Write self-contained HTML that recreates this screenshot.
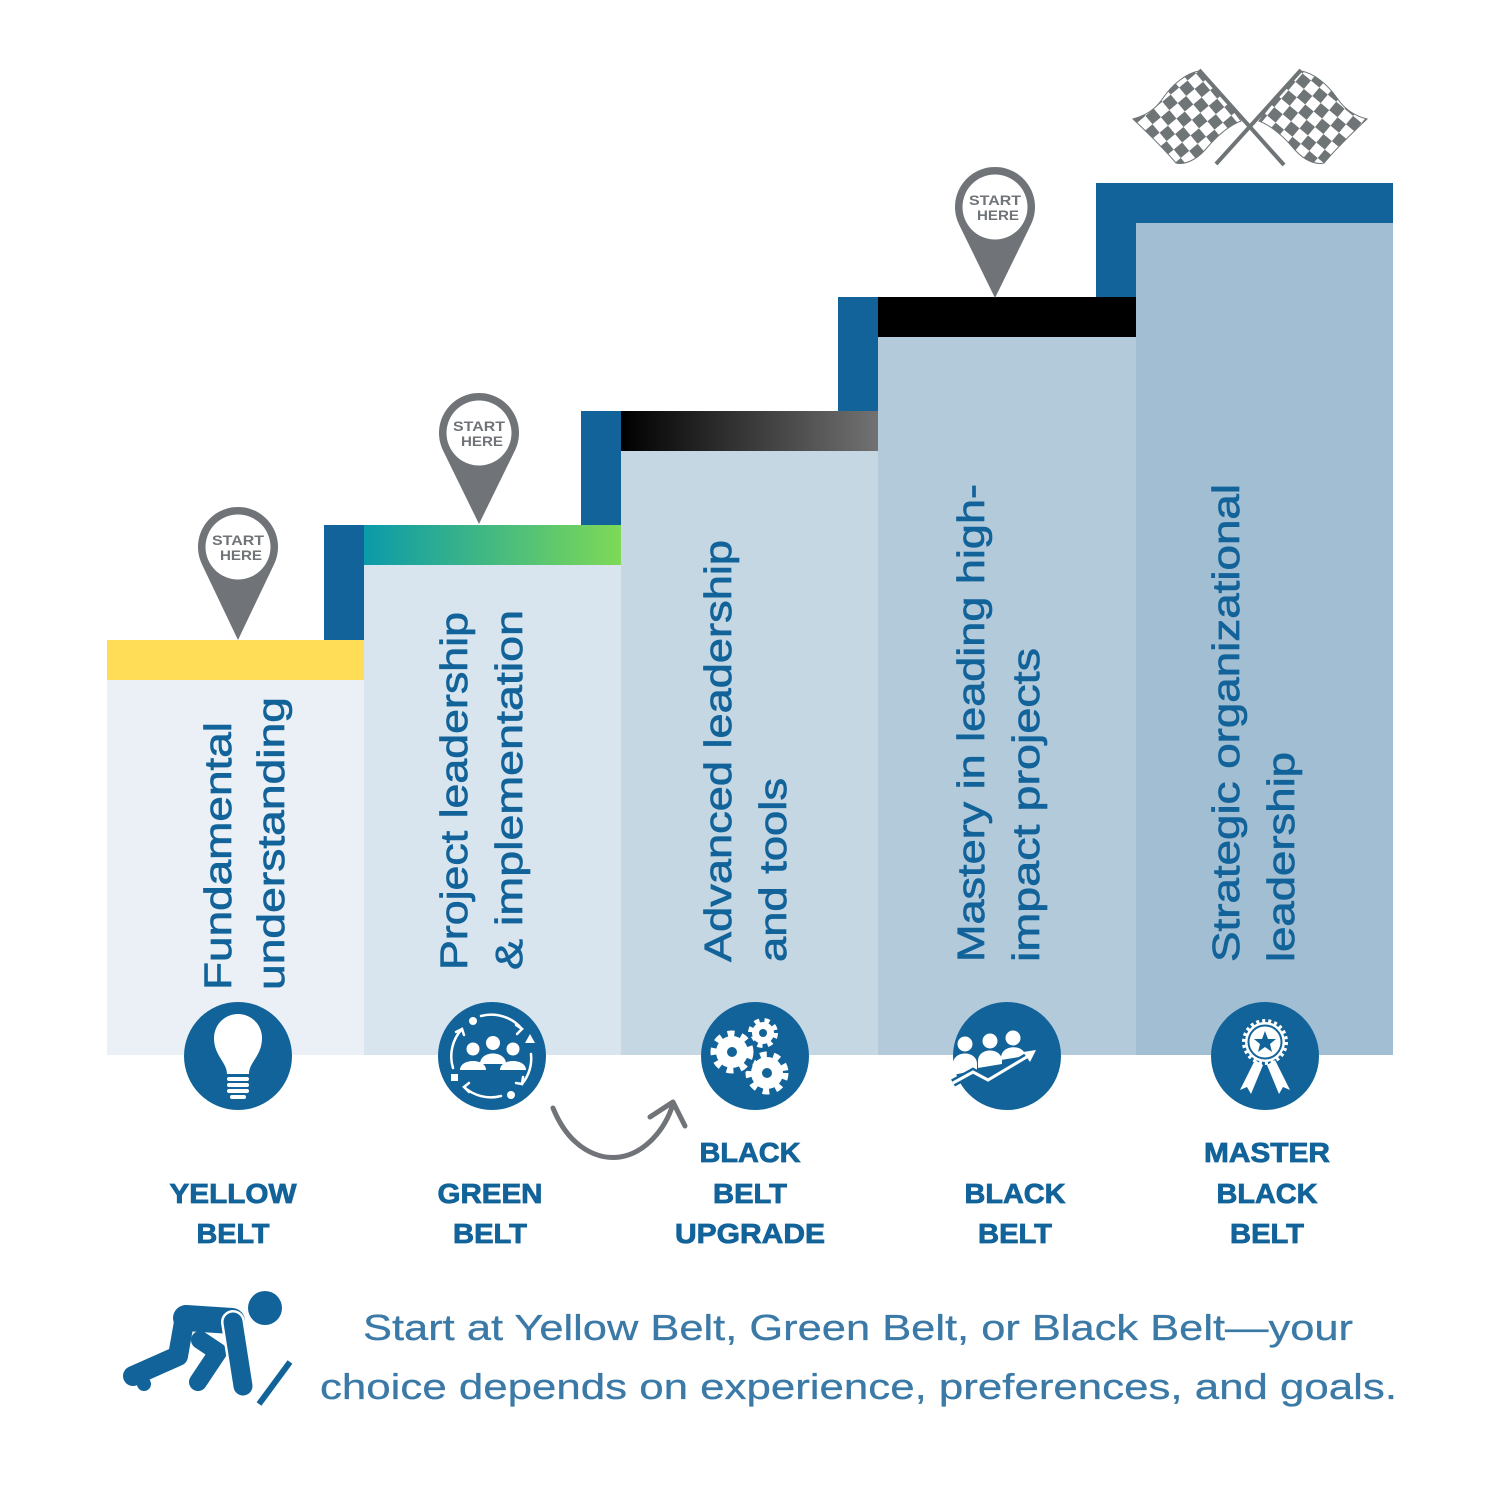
<!DOCTYPE html>
<html>
<head>
<meta charset="utf-8">
<style>
html,body{margin:0;padding:0;background:#ffffff;}
svg{display:block;}
</style>
</head>
<body>
<svg width="1500" height="1500" viewBox="0 0 1500 1500" xmlns="http://www.w3.org/2000/svg">
<defs>
  <linearGradient id="gGreen" x1="0" y1="0" x2="1" y2="0">
    <stop offset="0" stop-color="#0b9aaa"/>
    <stop offset="1" stop-color="#7ed957"/>
  </linearGradient>
  <linearGradient id="gBlack" x1="0" y1="0" x2="1" y2="0">
    <stop offset="0" stop-color="#000000"/>
    <stop offset="1" stop-color="#727272"/>
  </linearGradient>
  <pattern id="chk" width="22" height="22" patternUnits="userSpaceOnUse" patternTransform="rotate(-40)">
    <rect width="22" height="22" fill="#ffffff"/>
    <rect width="11" height="11" fill="#6f7477"/>
    <rect x="11" y="11" width="11" height="11" fill="#6f7477"/>
  </pattern>
  <pattern id="chk2" width="22" height="22" patternUnits="userSpaceOnUse" patternTransform="rotate(40)">
    <rect width="22" height="22" fill="#ffffff"/>
    <rect width="11" height="11" fill="#6f7477"/>
    <rect x="11" y="11" width="11" height="11" fill="#6f7477"/>
  </pattern>
</defs>

<rect width="1500" height="1500" fill="#ffffff"/>

<!-- Column bodies -->
<rect x="107" y="680" width="257" height="375" fill="#eaf0f5"/>
<rect x="364" y="565" width="257" height="490" fill="#d8e5ee"/>
<rect x="621" y="451" width="257" height="604" fill="#c5d7e3"/>
<rect x="878" y="337" width="258" height="718" fill="#b3cadb"/>
<rect x="1136" y="223" width="257" height="832" fill="#a2bed3"/>

<!-- Bands -->
<rect x="107" y="640" width="257" height="40" fill="#ffdd57"/>
<rect x="364" y="525" width="257" height="40" fill="url(#gGreen)"/>
<rect x="621" y="411" width="257" height="40" fill="url(#gBlack)"/>
<rect x="878" y="297" width="258" height="40" fill="#000000"/>
<rect x="1136" y="183" width="257" height="40" fill="#126399"/>

<!-- Risers -->
<rect x="324" y="525" width="40" height="115" fill="#126399"/>
<rect x="581" y="411" width="40" height="114" fill="#126399"/>
<rect x="838" y="297" width="40" height="114" fill="#126399"/>
<rect x="1096" y="183" width="40" height="114" fill="#126399"/>

<!-- Vertical text -->
<g font-family="Liberation Sans, sans-serif" font-size="38" fill="#12639a" stroke="#12639a" stroke-width="0.7">
  <text transform="translate(231,990) rotate(-90)" textLength="268" lengthAdjust="spacingAndGlyphs">Fundamental</text>
  <text transform="translate(284,990) rotate(-90)" textLength="293" lengthAdjust="spacingAndGlyphs">understanding</text>
  <text transform="translate(467,970) rotate(-90)" textLength="358" lengthAdjust="spacingAndGlyphs">Project leadership</text>
  <text transform="translate(522,970) rotate(-90)" textLength="360" lengthAdjust="spacingAndGlyphs">&amp; implementation</text>
  <text transform="translate(731,962) rotate(-90)" textLength="422" lengthAdjust="spacingAndGlyphs">Advanced leadership</text>
  <text transform="translate(786,962) rotate(-90)" textLength="184" lengthAdjust="spacingAndGlyphs">and tools</text>
  <text transform="translate(984,962) rotate(-90)" textLength="478" lengthAdjust="spacingAndGlyphs">Mastery in leading high-</text>
  <text transform="translate(1039,962) rotate(-90)" textLength="314" lengthAdjust="spacingAndGlyphs">impact projects</text>
  <text transform="translate(1239,962) rotate(-90)" textLength="478" lengthAdjust="spacingAndGlyphs">Strategic organizational</text>
  <text transform="translate(1294,962) rotate(-90)" textLength="210" lengthAdjust="spacingAndGlyphs">leadership</text>
</g>

<!-- Pins -->
<g fill="#707478">
  <path d="M238 640 L202.1 564.6 A40 40 0 1 1 273.9 564.6 Z"/>
  <path d="M479 524 L443.1 450.6 A40 40 0 1 1 514.9 450.6 Z"/>
  <path d="M995 298 L959.1 224.6 A40 40 0 1 1 1030.9 224.6 Z"/>
</g>
<g fill="#ffffff">
  <circle cx="238" cy="547" r="32.5"/>
  <circle cx="479" cy="433" r="32.5"/>
  <circle cx="995" cy="207" r="32.5"/>
</g>
<g font-family="Liberation Sans, sans-serif" font-weight="bold" font-size="14" fill="#707478" text-anchor="middle">
  <text x="238" y="545" textLength="52" lengthAdjust="spacingAndGlyphs">START</text>
  <text x="241" y="560" textLength="42" lengthAdjust="spacingAndGlyphs">HERE</text>
  <text x="479" y="431" textLength="52" lengthAdjust="spacingAndGlyphs">START</text>
  <text x="482" y="446" textLength="42" lengthAdjust="spacingAndGlyphs">HERE</text>
  <text x="995" y="205" textLength="52" lengthAdjust="spacingAndGlyphs">START</text>
  <text x="998" y="220" textLength="42" lengthAdjust="spacingAndGlyphs">HERE</text>
</g>

<!-- Checkered flags -->
<g>
  <path d="M1199 71 C1212 85 1226 100 1241 121 C1228 126 1215 138 1205 150 C1196 160 1185 165 1176 163 C1165 150 1150 135 1133 119 C1145 116 1155 110 1163 98 C1172 85 1186 73 1199 71 Z" fill="url(#chk)" stroke="#6f7477" stroke-width="1"/>
  <path d="M1301 71 C1288 85 1274 100 1259 121 C1272 126 1285 138 1295 150 C1304 160 1315 165 1324 163 C1335 150 1350 135 1367 119 C1355 116 1345 110 1337 98 C1328 85 1314 73 1301 71 Z" fill="url(#chk2)" stroke="#6f7477" stroke-width="1"/>
  <line x1="1199" y1="70" x2="1284" y2="165" stroke="#6f7477" stroke-width="4"/>
  <line x1="1301" y1="70" x2="1216" y2="164" stroke="#6f7477" stroke-width="4"/>
</g>

<!-- Icon circles -->
<g fill="#126399">
  <circle cx="238" cy="1056" r="54"/>
  <circle cx="492" cy="1056" r="54"/>
  <circle cx="755" cy="1056" r="54"/>
  <circle cx="1007" cy="1056" r="54"/>
  <circle cx="1265" cy="1056" r="54"/>
</g>

<!-- Lightbulb -->
<g fill="#ffffff">
  <path d="M227 1074 C227 1062 214 1056 214 1038 A24 24 0 1 1 262 1038 C262 1056 249 1062 249 1074 Z"/>
  <rect x="227" y="1077" width="22" height="4" rx="2"/>
  <rect x="227" y="1083" width="22" height="4" rx="2"/>
  <rect x="227" y="1089" width="22" height="4" rx="2"/>
  <rect x="230" y="1095" width="16" height="4" rx="2"/>
</g>

<!-- Team cycle -->
<g fill="#ffffff" stroke="none">
  <circle cx="473" cy="1049" r="6.5"/>
  <circle cx="513" cy="1049" r="6.5"/>
  <circle cx="493" cy="1043" r="7"/>
  <path d="M460 1070 C460 1058 486 1058 486 1070 Z"/>
  <path d="M500 1070 C500 1058 526 1058 526 1070 Z"/>
  <path d="M480 1064 C480 1050 506 1050 506 1064 Z"/>
  <circle cx="473" cy="1021" r="4"/>
  <polygon points="530,1034 535,1043 525,1043"/>
  <rect x="451" y="1074" width="7" height="7"/>
  <circle cx="511" cy="1095" r="4"/>
</g>
<g fill="none" stroke="#ffffff" stroke-width="2.5" stroke-linecap="round">
  <path d="M481 1016 A40 40 0 0 1 522 1029"/>
  <path d="M516 1025 L522 1029 L517 1034"/>
  <path d="M531 1054 A40 40 0 0 1 522 1084"/>
  <path d="M523 1077 L522 1084 L516 1083"/>
  <path d="M501 1096 A40 40 0 0 1 464 1087"/>
  <path d="M469 1083 L464 1087 L469 1092"/>
  <path d="M453 1068 A40 40 0 0 1 462 1029"/>
  <path d="M456 1032 L462 1029 L464 1035"/>
</g>

<!-- Gears -->
<g>
  <circle cx="767" cy="1073" r="18" fill="none" stroke="#ffffff" stroke-width="7" stroke-dasharray="6.5 6.5"/>
  <circle cx="767" cy="1073" r="16" fill="#ffffff" stroke="#126399" stroke-width="0"/>
  <circle cx="767" cy="1073" r="5" fill="#126399"/>
  <circle cx="763" cy="1033" r="13" fill="none" stroke="#126399" stroke-width="9"/>
  <circle cx="763" cy="1033" r="12.5" fill="none" stroke="#ffffff" stroke-width="5" stroke-dasharray="5 5"/>
  <circle cx="763" cy="1033" r="11" fill="#ffffff"/>
  <circle cx="763" cy="1033" r="4" fill="#126399"/>
  <circle cx="732" cy="1052" r="19" fill="none" stroke="#126399" stroke-width="10"/>
  <circle cx="732" cy="1052" r="18" fill="none" stroke="#ffffff" stroke-width="7" stroke-dasharray="6.7 6.7"/>
  <circle cx="732" cy="1052" r="16" fill="#ffffff"/>
  <circle cx="732" cy="1052" r="5" fill="#126399"/>
</g>

<!-- People growth -->
<g fill="#ffffff">
  <circle cx="965" cy="1044" r="7.5"/>
  <circle cx="990" cy="1041" r="7.5"/>
  <circle cx="1013" cy="1038" r="7.5"/>
  <path d="M953 1075 L953 1064 C953 1050 977 1050 977 1064 L977 1070 Z"/>
  <path d="M978 1068 L978 1061 C978 1047 1002 1047 1002 1061 L1002 1064 Z"/>
  <path d="M1001 1060 L1001 1058 C1001 1044 1025 1044 1025 1056 Z"/>
</g>
<g fill="none" stroke="#ffffff" stroke-width="3" stroke-linejoin="miter">
  <polyline points="953,1083 973,1072 988,1080 1030,1055" stroke="#126399" stroke-width="8"/>
  <polyline points="953,1083 973,1072 988,1080 1030,1055"/>
</g>
<polygon points="1036,1050 1023,1052 1030,1062" fill="#ffffff"/>

<!-- Award -->
<g>
  <path d="M1255 1060 L1240 1090 L1247 1087 L1251 1094 L1263 1065 Z" fill="#ffffff"/>
  <path d="M1275 1060 L1290 1090 L1283 1087 L1279 1094 L1267 1065 Z" fill="#ffffff"/>
  <circle cx="1265" cy="1042" r="21" fill="none" stroke="#ffffff" stroke-width="4" stroke-dasharray="3 3"/>
  <circle cx="1265" cy="1042" r="20" fill="#ffffff"/>
  <circle cx="1265" cy="1042" r="16.5" fill="none" stroke="#126399" stroke-width="2"/>
  <polygon points="1265,1031 1268,1039 1276,1039 1270,1044 1272,1052 1265,1047 1258,1052 1260,1044 1254,1039 1262,1039" fill="#126399"/>
</g>

<!-- Curved arrow -->
<g fill="none" stroke="#707478" stroke-width="5" stroke-linecap="round" stroke-linejoin="round">
  <path d="M553 1108 C570 1150 600 1160 620 1157 C645 1153 665 1130 673 1104"/>
  <path d="M650 1117 L673 1102 L685 1126"/>
</g>

<!-- Belt labels -->
<g font-family="Liberation Sans, sans-serif" font-weight="bold" font-size="28" fill="#12639a" stroke="#12639a" stroke-width="0.8" text-anchor="middle">
  <text x="233" y="1203" textLength="127" lengthAdjust="spacingAndGlyphs">YELLOW</text>
  <text x="233" y="1243" textLength="73" lengthAdjust="spacingAndGlyphs">BELT</text>
  <text x="490" y="1203" textLength="105" lengthAdjust="spacingAndGlyphs">GREEN</text>
  <text x="490" y="1243" textLength="74" lengthAdjust="spacingAndGlyphs">BELT</text>
  <text x="750" y="1162" textLength="101" lengthAdjust="spacingAndGlyphs">BLACK</text>
  <text x="750" y="1203" textLength="74" lengthAdjust="spacingAndGlyphs">BELT</text>
  <text x="750" y="1243" textLength="150" lengthAdjust="spacingAndGlyphs">UPGRADE</text>
  <text x="1015" y="1203" textLength="101" lengthAdjust="spacingAndGlyphs">BLACK</text>
  <text x="1015" y="1243" textLength="74" lengthAdjust="spacingAndGlyphs">BELT</text>
  <text x="1267" y="1162" textLength="126" lengthAdjust="spacingAndGlyphs">MASTER</text>
  <text x="1267" y="1203" textLength="101" lengthAdjust="spacingAndGlyphs">BLACK</text>
  <text x="1267" y="1243" textLength="74" lengthAdjust="spacingAndGlyphs">BELT</text>
</g>

<!-- Runner -->
<g fill="none" stroke="#12639a" stroke-linecap="round" stroke-linejoin="round">
  <circle cx="265" cy="1308" r="17" fill="#12639a" stroke="none"/>
  <path d="M186 1318 L232 1321" stroke-width="26"/>
  <path d="M184 1322 L178 1356 L133 1376" stroke-width="20"/>
  <path d="M138 1372 L144 1384" stroke-width="14"/>
  <path d="M200 1340 L218 1352 L198 1382" stroke-width="18"/>
</g>
<path d="M233 1322 L243 1386" stroke="#ffffff" stroke-width="24" stroke-linecap="round" fill="none"/>
<path d="M233 1322 L243 1386" stroke="#12639a" stroke-width="19" stroke-linecap="round" fill="none"/>
<line x1="290" y1="1362" x2="259" y2="1404" stroke="#12639a" stroke-width="6"/>

<!-- Bottom text -->
<g font-family="Liberation Sans, sans-serif" font-size="36" fill="#3b79a6" stroke="#3b79a6" stroke-width="0.3">
  <text x="363" y="1340" textLength="990" lengthAdjust="spacingAndGlyphs">Start at Yellow Belt, Green Belt, or Black Belt—your</text>
  <text x="320" y="1399" textLength="1077" lengthAdjust="spacingAndGlyphs">choice depends on experience, preferences, and goals.</text>
</g>
</svg>
</body>
</html>
